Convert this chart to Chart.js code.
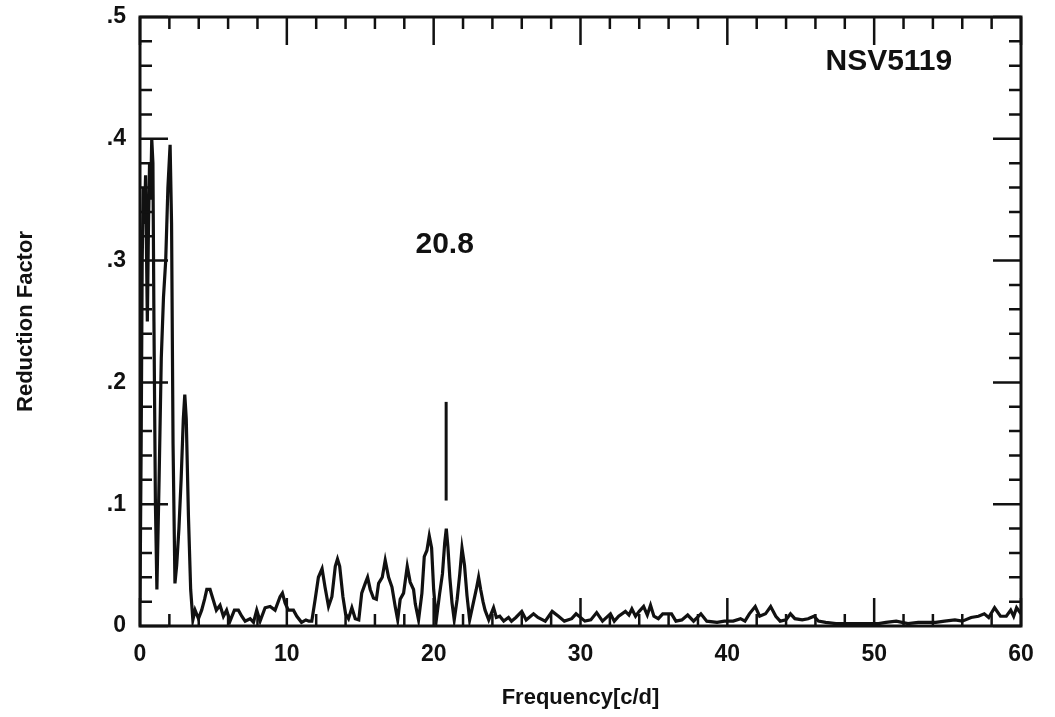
<!DOCTYPE html>
<html>
<head>
<meta charset="utf-8">
<script src="https://cdn.jsdelivr.net/npm/chart.js@4.4.1/dist/chart.umd.min.js"></script>
<style>
  html, body { margin: 0; padding: 0; background: #fff; }
  #wrap { width: 1055px; height: 717px; }
</style>
</head>
<body>
<div id="wrap"><canvas id="canvas" width="1055" height="717"></canvas></div>
<script>
// frequency [c/d] and reduction factor
const freqs = [
  0.0, 0.08, 0.15, 0.22, 0.3, 0.38, 0.45, 0.5, 0.58, 0.65, 0.72, 0.8, 0.88, 0.95, 1.05, 1.15,
  1.3, 1.45, 1.6, 1.75, 1.9, 2.05, 2.15, 2.25, 2.38, 2.5, 2.65, 2.8, 2.95, 3.05, 3.15, 3.3,
  3.45, 3.6, 3.75, 3.98, 4.2, 4.4, 4.55, 4.77, 5.0, 5.2, 5.45, 5.68, 5.9, 6.13, 6.43, 6.7,
  6.93, 7.16, 7.5, 7.73, 7.95, 8.18, 8.52, 8.86, 9.2, 9.54, 9.7, 9.88, 10.1, 10.45, 10.68, 11.0,
  11.3, 11.5, 11.7, 11.93, 12.15, 12.4, 12.6, 12.84, 13.07, 13.3, 13.45, 13.6, 13.82, 14.0, 14.2, 14.43,
  14.66, 14.9, 15.1, 15.34, 15.5, 15.68, 15.9, 16.1, 16.25, 16.5, 16.7, 16.93, 17.16, 17.38, 17.55, 17.72,
  17.95, 18.2, 18.4, 18.63, 18.75, 18.97, 19.2, 19.36, 19.54, 19.7, 19.86, 20.0, 20.18, 20.4, 20.6, 20.75,
  20.86, 20.97, 21.1, 21.25, 21.4, 21.6, 21.78, 21.93, 22.1, 22.27, 22.45, 22.72, 22.9, 23.06, 23.2, 23.36,
  23.5, 23.75, 24.08, 24.27, 24.5, 24.77, 25.1, 25.3, 25.6, 26.0, 26.3, 26.8, 27.1, 27.6, 28.07, 28.5,
  28.9, 29.4, 29.7, 30.3, 30.7, 31.1, 31.5, 32.04, 32.3, 32.6, 33.06, 33.3, 33.5, 33.75, 34.0, 34.3,
  34.55, 34.77, 35.0, 35.3, 35.6, 35.8, 36.2, 36.5, 36.9, 37.3, 37.7, 38.2, 38.6, 39.3, 39.8, 40.4,
  40.9, 41.2, 41.5, 41.9, 42.2, 42.6, 42.95, 43.3, 43.6, 44.0, 44.3, 44.6, 45.1, 45.5, 45.9, 46.2,
  46.7, 47.4, 48.2, 48.9, 49.6, 50.3, 50.8, 51.5, 52.3, 53.0, 53.4, 54.2, 54.8, 55.5, 56.0, 56.6,
  57.1, 57.5, 57.8, 58.2, 58.6, 59.0, 59.3, 59.5, 59.7, 60.0
];
const reduction = [
  0.02, 0.15, 0.30, 0.36, 0.33, 0.37, 0.30, 0.25, 0.33, 0.38, 0.35, 0.40, 0.38, 0.25, 0.10, 0.03,
  0.12, 0.22, 0.27, 0.30, 0.36, 0.395, 0.33, 0.15, 0.035, 0.05, 0.08, 0.12, 0.17, 0.19, 0.17, 0.09,
  0.03, 0.005, 0.013, 0.006, 0.013, 0.022, 0.03, 0.03, 0.021, 0.013, 0.017, 0.008, 0.013, 0.004, 0.013, 0.013,
  0.008, 0.004, 0.006, 0.003, 0.013, 0.004, 0.015, 0.016, 0.013, 0.024, 0.027, 0.019, 0.013, 0.013, 0.008, 0.003,
  0.005, 0.004, 0.004, 0.022, 0.04, 0.047, 0.032, 0.016, 0.024, 0.049, 0.055, 0.049, 0.024, 0.01, 0.006, 0.015,
  0.006, 0.005, 0.027, 0.035, 0.04, 0.03, 0.023, 0.022, 0.035, 0.04, 0.054, 0.04, 0.032, 0.016, 0.005, 0.022,
  0.027, 0.049, 0.036, 0.03, 0.018, 0.005, 0.027, 0.057, 0.062, 0.074, 0.064, 0.03, 0.005, 0.026, 0.043, 0.068,
  0.08, 0.065, 0.04, 0.019, 0.005, 0.022, 0.043, 0.064, 0.05, 0.025, 0.005, 0.02, 0.03, 0.04, 0.03, 0.02,
  0.013, 0.005, 0.015, 0.007, 0.008, 0.004, 0.007, 0.004, 0.007, 0.012, 0.005, 0.01, 0.007, 0.004, 0.012, 0.008,
  0.004, 0.006, 0.01, 0.004, 0.005, 0.011, 0.004, 0.01, 0.004, 0.008, 0.012, 0.009, 0.014, 0.008, 0.012, 0.016,
  0.009, 0.017, 0.008, 0.006, 0.01, 0.01, 0.01, 0.004, 0.005, 0.009, 0.004, 0.01, 0.004, 0.003, 0.004, 0.004,
  0.006, 0.004, 0.01, 0.016, 0.008, 0.01, 0.016, 0.008, 0.004, 0.005, 0.01, 0.006, 0.005, 0.006, 0.008, 0.004,
  0.003, 0.002, 0.002, 0.002, 0.002, 0.002, 0.003, 0.004, 0.002, 0.003, 0.003, 0.003, 0.004, 0.005, 0.004, 0.007,
  0.008, 0.01, 0.007, 0.015, 0.008, 0.008, 0.013, 0.008, 0.015, 0.01
];

// marker for the 20.8 c/d peak
const markerFreq = [20.85, 20.85];
const markerVal = [0.103, 0.184];

const xTicks = [0, 10, 20, 30, 40, 50, 60];
const yTicks = [0, 0.1, 0.2, 0.3, 0.4, 0.5];

const ink = '#111';
const font = 'Liberation Sans, Arial, Helvetica, sans-serif';

// inward ticks on all four sides of the frame (minor every 2 c/d and .02)
const frameTicks = {
  id: 'frameTicks',
  afterDatasetsDraw(chart) {
    const { ctx, chartArea: a, scales: { x, y } } = chart;
    ctx.save();
    ctx.strokeStyle = ink;
    ctx.lineWidth = 3;
    ctx.strokeRect(a.left, a.top, a.right - a.left, a.bottom - a.top);
    ctx.lineWidth = 2.5;
    ctx.beginPath();
    for (let i = 0; i <= 30; i++) {
      const px = x.getPixelForValue(i * 2);
      const len = i % 5 === 0 ? 28 : 12;
      ctx.moveTo(px, a.bottom); ctx.lineTo(px, a.bottom - len);
      ctx.moveTo(px, a.top); ctx.lineTo(px, a.top + len);
    }
    for (let j = 0; j <= 25; j++) {
      const py = y.getPixelForValue(j * 0.02);
      const len = j % 5 === 0 ? 28 : 12;
      ctx.moveTo(a.left, py); ctx.lineTo(a.left + len, py);
      ctx.moveTo(a.right, py); ctx.lineTo(a.right - len, py);
    }
    ctx.stroke();

    // annotations
    ctx.fillStyle = ink;
    ctx.font = 'bold 30px ' + font;
    ctx.textAlign = 'center';
    ctx.textBaseline = 'middle';
    ctx.fillText('20.8', x.getPixelForValue(20.75), y.getPixelForValue(0.313));
    ctx.fillText('NSV5119', x.getPixelForValue(51.0), y.getPixelForValue(0.463));
    ctx.restore();
  }
};

new Chart(document.querySelector('#canvas'), {
  type: 'scatter',
  plugins: [frameTicks],
  data: {
    datasets: [
      {
        data: freqs.map((f, i) => ({ x: f, y: reduction[i] })),
        showLine: true,
        borderColor: ink,
        borderWidth: 3.2,
        pointRadius: 0,
        tension: 0
      },
      {
        data: markerFreq.map((f, i) => ({ x: f, y: markerVal[i] })),
        showLine: true,
        borderColor: ink,
        borderWidth: 3,
        pointRadius: 0
      }
    ]
  },
  options: {
    responsive: false,
    animation: false,
    layout: { padding: { left: 0, right: 34, top: 17, bottom: 0 } },
    plugins: { legend: { display: false }, tooltip: { enabled: false } },
    scales: {
      x: {
        type: 'linear',
        min: 0, max: 60,
        afterFit: (s) => { s.height = 91; s.paddingLeft = 0; s.paddingRight = 0; },
        afterBuildTicks: (s) => { s.ticks = xTicks.map(v => ({ value: v })); },
        grid: { display: false, drawTicks: false },
        border: { display: false },
        ticks: { color: ink, font: { family: font, size: 23, weight: 'bold' }, padding: 15, maxRotation: 0 },
        title: { display: true, text: 'Frequency[c/d]', color: ink,
                 font: { family: font, size: 22, weight: 'bold' }, padding: { top: 0, bottom: 6 } }
      },
      y: {
        min: 0, max: 0.5,
        afterFit: (s) => { s.width = 140; s.paddingTop = 0; s.paddingBottom = 0; },
        afterBuildTicks: (s) => { s.ticks = yTicks.map(v => ({ value: v })); },
        grid: { display: false, drawTicks: false },
        border: { display: false },
        ticks: {
          color: ink, font: { family: font, size: 23, weight: 'bold' }, padding: 14,
          callback: (v) => v === 0 ? '0' : '.' + Math.round(v * 10)
        },
        title: { display: true, text: 'Reduction Factor', color: ink,
                 font: { family: font, size: 22, weight: 'bold' }, padding: { top: 13, bottom: 0 } }
      }
    }
  }
});
</script>
</body>
</html>
